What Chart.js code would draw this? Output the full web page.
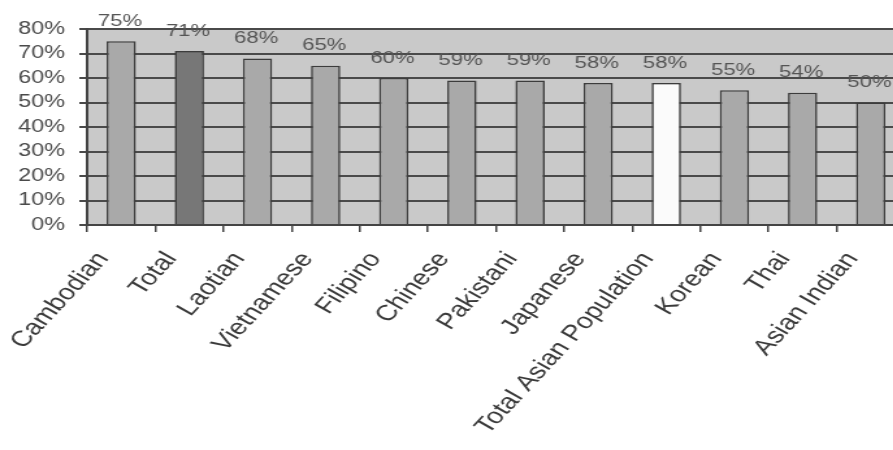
<!DOCTYPE html>
<html lang="en">
<head>
    <meta charset="UTF-8">
    <title>Asian Groups Bar Chart</title>
    <script src="https://cdn.jsdelivr.net/npm/chart.js"></script>
    <style>
        body {
            margin: 0;
            padding: 0;
            background: #ffffff;
            overflow: hidden;
        }
        /* the reference picture is stretched sideways, so we stretch the whole chart too */
        #wrap {
            width: 700px;
            height: 450px;
            transform: scaleX(1.3);
            transform-origin: 0 0;
        }
    </style>
</head>
<body>
    <div id="wrap"><canvas id="groupChart"></canvas></div>

    <script>
        // chart values
        const categories = ['Cambodian', 'Total', 'Laotian', 'Vietnamese', 'Filipino', 'Chinese',
            'Pakistani', 'Japanese', 'Total Asian Population', 'Korean', 'Thai', 'Asian Indian'];
        const percents = [75, 71, 68, 65, 60, 59, 59, 58, 58, 55, 54, 50];
        const yTicks = [0, 10, 20, 30, 40, 50, 60, 70, 80];

        // bar fills: Total is darker, Total Asian Population is white
        const barColors = categories.map(name => {
            if (name === 'Total') return '#777777';
            if (name === 'Total Asian Population') return '#fbfbfb';
            return '#a9a9a9';
        });

        // grey plot area
        const plotBackground = {
            id: 'plotBackground',
            beforeDraw(chart) {
                const a = chart.chartArea;
                const ctx = chart.ctx;
                ctx.save();
                ctx.fillStyle = '#c9c9c9';
                ctx.fillRect(a.left, a.top, a.right - a.left, a.bottom - a.top);
                ctx.restore();
            }
        };

        // percent labels above each bar
        const valueLabels = {
            id: 'valueLabels',
            afterDatasetsDraw(chart) {
                const ctx = chart.ctx;
                const meta = chart.getDatasetMeta(0);
                ctx.save();
                ctx.font = '17px "Liberation Sans", Arial, sans-serif';
                ctx.fillStyle = '#555555';
                ctx.textAlign = 'center';
                ctx.textBaseline = 'middle';
                meta.data.forEach((bar, i) => {
                    ctx.fillText(percents[i] + '%', bar.x - 1, bar.y - 20);
                });
                ctx.restore();
            }
        };

        const ctx = document.getElementById('groupChart').getContext('2d');
        new Chart(ctx, {
            type: 'bar',
            data: {
                labels: categories,
                datasets: [{
                    data: percents,
                    backgroundColor: barColors,
                    borderColor: '#3c3c3c',
                    borderWidth: 1.6,
                    barPercentage: 0.43,
                    categoryPercentage: 1
                }]
            },
            options: {
                responsive: true,
                maintainAspectRatio: false,
                animation: false,
                layout: {
                    padding: { top: 0, left: 3, right: 4, bottom: 0 }
                },
                plugins: {
                    legend: { display: false },
                    tooltip: { enabled: false },
                    // empty title only reserves the white strip above the plot
                    // (layout padding would shrink the room the x labels may take)
                    title: {
                        display: true,
                        text: '',
                        font: { size: 10 },
                        padding: { top: 17, bottom: 0 }
                    }
                },
                scales: {
                    x: {
                        border: { color: '#444444', width: 2 },
                        grid: {
                            drawOnChartArea: false,
                            color: '#444444',
                            lineWidth: 1.5,
                            tickLength: 7
                        },
                        ticks: {
                            autoSkip: false,
                            minRotation: 54,
                            maxRotation: 54,
                            padding: 21,
                            labelOffset: -14,
                            color: '#3a3a3a',
                            // small lineHeight keeps the axis box low enough for the long labels
                            font: { family: '"Liberation Sans", Arial, sans-serif', size: 22, lineHeight: 0.3 }
                        }
                    },
                    y: {
                        min: 0,
                        max: 80,
                        border: { color: '#444444', width: 2 },
                        afterBuildTicks(axis) {
                            axis.ticks = yTicks.map(v => ({ value: v }));
                        },
                        grid: {
                            color: '#4a4a4a',
                            lineWidth: 2,
                            tickLength: 6
                        },
                        ticks: {
                            autoSkip: false,
                            padding: 11,
                            color: '#4a4a4a',
                            font: { family: '"Liberation Sans", Arial, sans-serif', size: 18 },
                            callback: v => v + '%'
                        }
                    }
                }
            },
            plugins: [plotBackground, valueLabels]
        });
    </script>
</body>
</html>
